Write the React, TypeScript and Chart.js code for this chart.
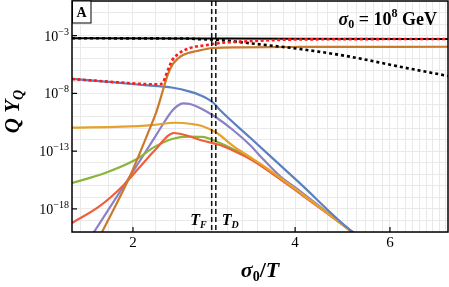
import { useEffect, useRef } from 'react';
import { Chart, registerables } from 'chart.js';

Chart.register(...registerables);

const X_MIN = 1.541;
const X_MAX = 7.69;
const Y_MIN = 1e-20;
const Y_MAX = 1;

const xGrid = [1.6, 1.8, 2.0, 2.2, 2.4, 2.6, 2.8, 3.0, 3.2, 3.4, 3.6, 3.8, 4.0, 4.2, 4.4, 4.6, 4.8, 5.0, 5.2, 5.4, 5.6, 5.8, 6.0, 6.2, 6.4, 6.6, 6.8, 7.0, 7.2, 7.4, 7.6];
const yGridExp = [-20, -19, -18, -17, -16, -15, -14, -13, -12, -11, -10, -9, -8, -7, -6, -5, -4, -3, -2, -1, 0];
const xTickLabels = [2, 4, 6];
const yTickExp = [-3, -8, -13, -18];
const markerX = [2.80, 2.85];
const markerSubs = ['F', 'D'];

// series: x = sigma0/T, values given as log10(Q Y_Q)
const eqX = [1.541, 2.5, 4.0, 7.69];
const eqLog = [-3.23, -3.25, -3.27, -3.29];

const eqDotX = [1.541, 2.5, 2.65, 2.9, 3.298, 4.085, 5.058, 6.263, 7.69];
const eqDotLog = [-3.23, -3.25, -3.30, -3.38, -3.66, -4.16, -4.82, -5.69, -6.49];

const totX = [1.541, 1.8, 2.061, 2.2, 2.245, 2.274, 2.303, 2.333, 2.363, 2.424, 2.552, 2.744, 2.939, 3.16, 4.085, 7.69];
const totLog = [-6.75, -6.98, -7.17, -7.21, -7.2, -7.05, -6.4, -5.75, -5.15, -4.6, -4.07, -3.81, -3.61, -3.52, -3.33, -3.29];

const blueX = [1.541, 1.8, 2.061, 2.373, 2.552, 2.664, 2.816, 2.901, 3.298, 4.085, 5.12, 5.8];
const blueLog = [-6.75, -7.0, -7.25, -7.51, -7.85, -8.15, -8.79, -9.44, -11.82, -15.79, -20.0, -21.5];

const brownX = [1.70, 1.752, 1.975, 2.151, 2.216, 2.274, 2.323, 2.373, 2.424, 2.477, 2.629, 2.816, 3.16, 4.085, 7.69];
const brownLog = [-21.2, -20.0, -15.15, -11.0, -9.44, -7.71, -6.32, -5.45, -4.98, -4.68, -4.33, -4.07, -4.01, -3.98, -3.96];

const yellowX = [1.541, 1.908, 2.169, 2.394, 2.574, 2.686, 2.864, 3.067, 3.298, 3.517, 4.085, 5.101, 5.39];
const yellowLog = [-10.97, -10.88, -10.74, -10.54, -10.65, -10.82, -11.43, -12.55, -13.51, -14.37, -16.58, -20.0, -20.95];

const greenX = [1.541, 1.775, 2.017, 2.198, 2.363, 2.541, 2.686, 2.901, 3.094, 3.298, 3.517, 4.085, 5.101, 5.39];
const greenLog = [-15.76, -14.89, -13.77, -12.61, -11.95, -11.75, -11.77, -12.29, -12.90, -13.59, -14.46, -16.62, -20.0, -20.95];

const redX = [1.541, 1.729, 1.908, 2.061, 2.198, 2.383, 2.498, 2.686, 2.901, 3.094, 3.298, 3.517, 4.085, 5.101, 5.39];
const redLog = [-19.22, -17.81, -16.08, -14.35, -12.90, -11.43, -11.60, -12.08, -12.47, -13.03, -13.68, -14.50, -16.67, -20.0, -20.95];

const purpleX = [1.629, 1.693, 1.992, 2.198, 2.293, 2.363, 2.424, 2.477, 2.552, 2.664, 2.864, 3.067, 3.298, 3.472, 3.749, 4.085, 5.101, 5.39];
const purpleLog = [-21.21, -20.0, -14.89, -11.77, -10.39, -9.52, -9.05, -8.86, -8.92, -9.26, -10.13, -11.17, -12.47, -13.59, -15.15, -16.45, -20.0, -20.95];

const SERIF = '"Liberation Serif", "DejaVu Serif", serif';

function pts(xs: number[], logs: number[]) {
  return xs.map((x, i) => ({ x, y: Math.pow(10, logs[i]) }));
}

type Part = { t: string; font: string; dy?: number };
function drawRich(ctx: CanvasRenderingContext2D, parts: Part[], x: number, y: number, align: 'left' | 'center' | 'right') {
  let w = 0;
  const widths = parts.map((p) => {
    ctx.font = p.font;
    const m = ctx.measureText(p.t).width;
    w += m;
    return m;
  });
  let cx = align === 'left' ? x : align === 'center' ? x - w / 2 : x - w;
  ctx.textAlign = 'left';
  ctx.textBaseline = 'alphabetic';
  parts.forEach((p, i) => {
    ctx.font = p.font;
    ctx.fillText(p.t, cx, y + (p.dy || 0));
    cx += widths[i];
  });
}

const overlay = {
  id: 'overlay',
  afterDatasetsDraw(chart: any) {
    const ctx: CanvasRenderingContext2D = chart.ctx;
    const a = chart.chartArea;
    const xs = chart.scales.x;
    const ys = chart.scales.y;
    ctx.save();
    // vertical dashed markers
    ctx.strokeStyle = '#111';
    ctx.lineWidth = 1.5;
    ctx.setLineDash([5, 3]);
    markerX.forEach((v) => {
      const px = xs.getPixelForValue(v);
      ctx.beginPath();
      ctx.moveTo(px, a.top);
      ctx.lineTo(px, a.bottom);
      ctx.stroke();
    });
    ctx.setLineDash([]);

    // frame
    ctx.strokeStyle = '#000';
    ctx.lineWidth = 1.5;
    ctx.strokeRect(a.left, a.top, a.right - a.left, a.bottom - a.top);

    // inward ticks
    ctx.lineWidth = 1.2;
    xTickLabels.forEach((v) => {
      const px = xs.getPixelForValue(v);
      ctx.beginPath();
      ctx.moveTo(px, a.bottom);
      ctx.lineTo(px, a.bottom - 5);
      ctx.stroke();
    });
    yTickExp.forEach((e) => {
      const py = ys.getPixelForValue(Math.pow(10, e));
      ctx.beginPath();
      ctx.moveTo(a.left, py);
      ctx.lineTo(a.left + 5, py);
      ctx.stroke();
    });

    ctx.fillStyle = '#000';
    // x tick labels
    xTickLabels.forEach((v) => {
      const px = xs.getPixelForValue(v);
      drawRich(ctx, [{ t: String(v), font: `15px ${SERIF}` }], px, a.bottom + 15, 'center');
    });
    // y tick labels
    yTickExp.forEach((e) => {
      const py = ys.getPixelForValue(Math.pow(10, e));
      drawRich(
        ctx,
        [
          { t: '10', font: `14px ${SERIF}` },
          { t: '\u2212' + String(-e), font: `10px ${SERIF}`, dy: -6 },
        ],
        a.left - 3,
        py + 5,
        'right'
      );
    });

    // x title
    drawRich(
      ctx,
      [
        { t: '\u03c3', font: `bold italic 22px ${SERIF}` },
        { t: '0', font: `bold 14px ${SERIF}`, dy: 4 },
        { t: '/', font: `bold 22px ${SERIF}` },
        { t: 'T', font: `bold italic 22px ${SERIF}` },
      ],
      (a.left + a.right) / 2,
      277,
      'center'
    );

    // y title
    ctx.save();
    ctx.translate(19, (a.top + a.bottom) / 2 - 5);
    ctx.rotate(-Math.PI / 2);
    drawRich(
      ctx,
      [
        { t: 'Q ', font: `bold italic 21px ${SERIF}` },
        { t: 'Y', font: `bold italic 21px ${SERIF}` },
        { t: 'Q', font: `bold italic 14px ${SERIF}`, dy: 4 },
      ],
      0,
      0,
      'center'
    );
    ctx.restore();

    // marker labels
    markerX.forEach((v, i) => {
      const px = xs.getPixelForValue(v);
      const parts: Part[] = [
        { t: 'T', font: `bold italic 16px ${SERIF}` },
        { t: markerSubs[i], font: `bold italic 10px ${SERIF}`, dy: 3 },
      ];
      if (i === 0) drawRich(ctx, parts, px - 5, 225, 'right');
      else drawRich(ctx, parts, px + 6, 225, 'left');
    });

    // annotation
    drawRich(
      ctx,
      [
        { t: '\u03c3', font: `bold italic 18px ${SERIF}` },
        { t: '0', font: `bold 12px ${SERIF}`, dy: 3 },
        { t: ' = 10', font: `bold 18px ${SERIF}` },
        { t: '8', font: `bold 12px ${SERIF}`, dy: -8 },
        { t: ' GeV', font: `bold 18px ${SERIF}` },
      ],
      437,
      25,
      'right'
    );

    // panel label box
    ctx.fillStyle = '#fff';
    ctx.fillRect(a.left, a.top, 19, 22);
    ctx.strokeStyle = '#000';
    ctx.lineWidth = 1;
    ctx.strokeRect(a.left + 0.5, a.top, 18.5, 22);
    ctx.fillStyle = '#000';
    drawRich(ctx, [{ t: 'A', font: `bold 14px ${SERIF}` }], a.left + 9.5, a.top + 16, 'center');

    ctx.restore();
  },
};

export default function App() {
  const ref = useRef<HTMLCanvasElement | null>(null);
  useEffect(() => {
    if (!ref.current) return;
    const line = (data: any, color: string, width: number, dash: number[] = []) => ({
      data,
      borderColor: color,
      backgroundColor: color,
      borderWidth: width,
      borderDash: dash,
      pointRadius: 0,
      fill: false,
      cubicInterpolationMode: 'monotone' as const,
    });
    const chart = new Chart(ref.current, {
      type: 'line',
      data: {
        datasets: [
          line(pts(totX, totLog), '#ff1a1a', 2.6, [3, 2.5]),
          line(pts(eqDotX, eqDotLog), '#000000', 2.6, [3, 3]),
          line(pts(eqX, eqLog), '#000000', 2),
          line(pts(brownX, brownLog), '#c97a2c', 2.2),
          line(pts(blueX, blueLog), '#5b80c0', 2.2),
          line(pts(yellowX, yellowLog), '#e6a22a', 2.2),
          line(pts(redX, redLog), '#ee5f3a', 2.2),
          line(pts(greenX, greenLog), '#8bb53c', 2.2),
          line(pts(purpleX, purpleLog), '#8c80c6', 2.2),
        ],
      },
      options: {
        animation: false,
        responsive: false,
        devicePixelRatio: 1,
        layout: { padding: { left: 72, top: 1, right: 1, bottom: 55 } },
        plugins: { legend: { display: false }, tooltip: { enabled: false } },
        scales: {
          x: {
            type: 'logarithmic',
            min: X_MIN,
            max: X_MAX,
            afterBuildTicks: (scale: any) => {
              scale.ticks = xGrid.map((v) => ({ value: v }));
            },
            ticks: { display: false },
            grid: { color: '#e9e9e9', lineWidth: 1, drawTicks: false },
            border: { display: false },
          },
          y: {
            type: 'logarithmic',
            min: Y_MIN,
            max: Y_MAX,
            afterBuildTicks: (scale: any) => {
              scale.ticks = yGridExp.map((e) => ({ value: Math.pow(10, e) }));
            },
            ticks: { display: false },
            grid: { color: '#e9e9e9', lineWidth: 1, drawTicks: false },
            border: { display: false },
          },
        },
      },
      plugins: [overlay],
    });
    return () => chart.destroy();
  }, []);
  return (
    <div style={{ position: 'absolute', left: 0, top: 0, width: 449, height: 287, background: '#fff' }}>
      <canvas ref={ref} width={449} height={287} style={{ display: 'block' }} />
    </div>
  );
}
